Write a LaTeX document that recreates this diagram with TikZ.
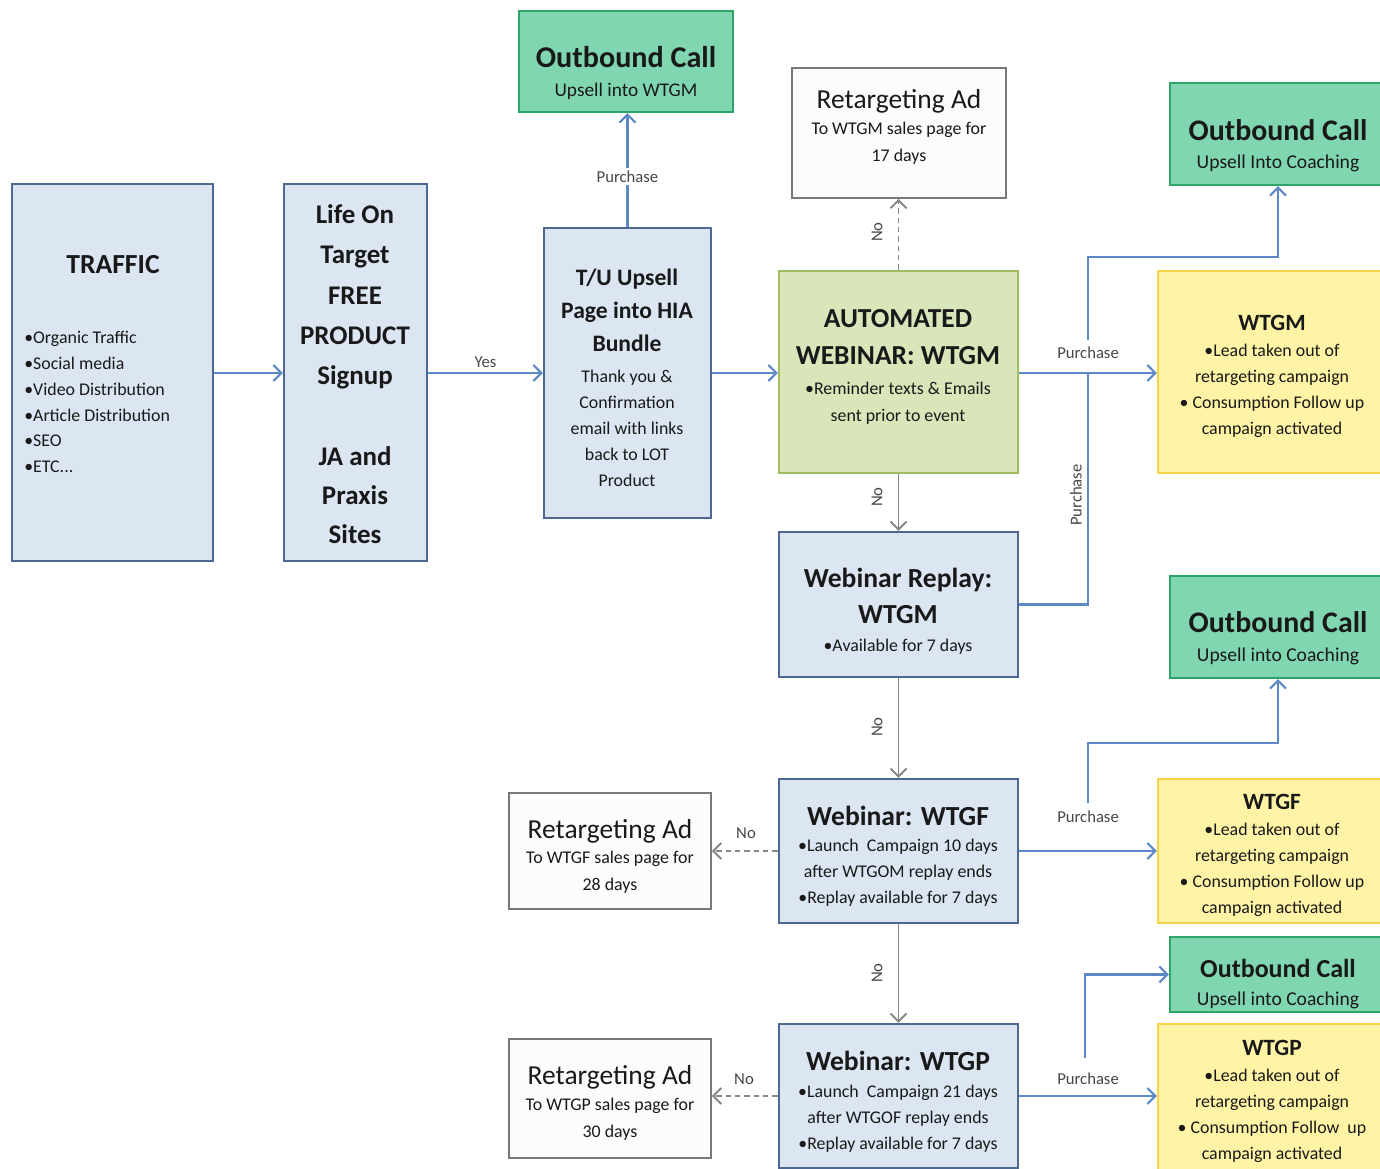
\documentclass[tikz,border=0pt]{standalone}
\usepackage{fontspec}
\setmainfont{Carlito}
\usetikzlibrary{arrows.meta,fit}
\definecolor{boxblue}{RGB}{78,104,148}
\definecolor{boxbluefill}{RGB}{220,230,243}
\definecolor{grnborder}{RGB}{160,190,95}
\definecolor{grnfill}{RGB}{216,230,186}
\definecolor{tealborder}{RGB}{45,165,105}
\definecolor{tealfill}{RGB}{128,214,176}
\definecolor{ylwborder}{RGB}{246,212,70}
\definecolor{ylwfill}{RGB}{255,243,165}
\definecolor{retborder}{RGB}{120,120,120}
\definecolor{retfill}{RGB}{252,252,250}
\definecolor{connblue}{RGB}{92,136,198}
\definecolor{conngray}{RGB}{135,135,135}
\definecolor{txt}{RGB}{25,25,25}
\definecolor{lblc}{RGB}{70,70,70}
\tikzset{
  box/.style={draw, line width=1.8pt, inner sep=0pt},
  bluebox/.style={box, draw=boxblue, fill=boxbluefill},
  grnbox/.style={box, draw=grnborder, fill=grnfill},
  tealbox/.style={box, draw=tealborder, fill=tealfill},
  ylwbox/.style={box, draw=ylwborder, fill=ylwfill},
  retbox/.style={box, line width=1.4pt, draw=retborder, fill=retfill},
  ttl/.style={font=\fontsize{20.7}{28}\selectfont\bfseries, text=txt, align=center, inner sep=0pt},
  sm/.style={font=\fontsize{13.4}{19.5}\selectfont, text=txt, align=center, inner sep=0pt},
  lbl/.style={font=\fontsize{12.5}{14}\selectfont, text=lblc, fill=white, inner sep=2pt},
  barrow/.style={draw=connblue, line width=1.6pt, -{Straight Barb[length=6pt,width=12pt]}},
  bline/.style={draw=connblue, line width=1.6pt},
  garrow/.style={draw=conngray, line width=1.4pt, -{Straight Barb[length=6pt,width=12pt]}},
  gdash/.style={garrow, dash pattern=on 4pt off 3pt},
}
\begin{document}
\begin{tikzpicture}[x=0.75pt, y=-0.75pt]
\useasboundingbox[fill=white] (0,0) rectangle (1380,1169);

% ---------- boxes ----------
\node[bluebox, fit={(12,184) (213,561)}] (traffic) {};
\node[bluebox, fit={(284,184) (427,561)}] (life) {};
\node[bluebox, fit={(544,228) (711,518)}] (tu) {};
\node[grnbox, fit={(779,271) (1018,473)}] (auto) {};
\node[tealbox, fit={(519,11) (733,112)}] (out0) {};
\node[retbox, fit={(792,68) (1006,198)}] (ret0) {};
\node[tealbox, fit={(1170,83) (1386,185)}] (out1) {};
\node[ylwbox, fit={(1158,271) (1386,473)}] (ym) {};
\node[bluebox, fit={(779,532) (1018,677)}] (replay) {};
\node[tealbox, fit={(1170,576) (1386,678)}] (out2) {};
\node[bluebox, fit={(779,779) (1018,923)}] (wtgf) {};
\node[retbox, fit={(509,793) (711,909)}] (ret1) {};
\node[ylwbox, fit={(1158,779) (1386,923)}] (yf) {};
\node[tealbox, fit={(1170,937) (1386,1012)}] (out3) {};
\node[bluebox, fit={(779,1024) (1018,1168)}] (wtgp) {};
\node[retbox, fit={(509,1039) (711,1158)}] (ret2) {};
\node[ylwbox, fit={(1158,1024) (1386,1176)}] (yp) {};

% ---------- texts ----------
\node[ttl] (traffic-t) at (113,265) {TRAFFIC};
\node[sm, align=left, anchor=west, font=\fontsize{13.4}{19.4}\selectfont] (traffic-b) at (24,402) {%
•Organic Traffic\\•Social media\\•Video Distribution\\•Article Distribution\\•SEO\\•ETC...};

\node[ttl, font=\fontsize{20.2}{30.2}\selectfont\bfseries] (life-t1) at (355,297) {Life On\\Target\\FREE\\PRODUCT\\Signup};
\node[ttl, font=\fontsize{20.2}{29}\selectfont\bfseries] (life-t2) at (355,495) {JA and\\Praxis\\Sites};

\node[ttl, font=\fontsize{17.7}{24.8}\selectfont\bfseries] (tu-t) at (627,310) {T/U Upsell\\Page into HIA\\Bundle};
\node[sm] (tu-b) at (627,428) {Thank you \&\\Confirmation\\email with links\\back to LOT\\Product};

\node[ttl, font=\fontsize{20.6}{27.8}\selectfont\bfseries] (auto-t) at (898,337) {AUTOMATED\\WEBINAR: WTGM};
\node[sm, font=\fontsize{13.4}{20}\selectfont] (auto-b) at (898,403) {•Reminder texts \& Emails\\sent prior to event};

\node[ttl, font=\fontsize{22.6}{28}\selectfont\bfseries] (out0-t) at (626,57) {Outbound Call};
\node[sm, font=\fontsize{14.5}{18}\selectfont] (out0-b) at (626,91) {Upsell into WTGM};

\node[ttl, font=\fontsize{20.6}{28}\selectfont] (ret0-t) at (899,101) {Retargeting Ad};
\node[sm, font=\fontsize{13.4}{20.5}\selectfont] (ret0-b) at (899,143) {To WTGM sales page for\\17 days};

\node[ttl, font=\fontsize{22.4}{28}\selectfont\bfseries] (out1-t) at (1278,130) {Outbound Call};
\node[sm, font=\fontsize{14.7}{18}\selectfont] (out1-b) at (1278,163) {Upsell Into Coaching};

\node[ttl, font=\fontsize{17.5}{22}\selectfont\bfseries] (ym-t) at (1272,323) {WTGM};
\node[sm] (ym-b) at (1272,391) {•Lead taken out of\\retargeting campaign\\• Consumption Follow up\\campaign activated};

\node[ttl, font=\fontsize{20.7}{26.5}\selectfont\bfseries] (replay-t) at (898,596) {Webinar Replay:\\WTGM};
\node[sm] (replay-b) at (898,647) {•Available for 7 days};

\node[ttl, font=\fontsize{22.4}{28}\selectfont\bfseries] (out2-t) at (1278,622) {Outbound Call};
\node[sm, font=\fontsize{14.7}{18}\selectfont] (out2-b) at (1278,656) {Upsell into Coaching};

\node[ttl] (wtgf-t) at (898,816) {Webinar: WTGF};
\node[sm, font=\fontsize{13.4}{19.5}\selectfont] (wtgf-b) at (898,873) {•Launch\ \ Campaign 10 days\\after WTGOM replay ends\\•Replay available for 7 days};

\node[ttl, font=\fontsize{20.6}{28}\selectfont] (ret1-t) at (610,831) {Retargeting Ad};
\node[sm, font=\fontsize{13.4}{20.5}\selectfont] (ret1-b) at (610,872) {To WTGF sales page for\\28 days};

\node[ttl, font=\fontsize{17.5}{22}\selectfont\bfseries] (yf-t) at (1272,802) {WTGF};
\node[sm] (yf-b) at (1272,870) {•Lead taken out of\\retargeting campaign\\• Consumption Follow up\\campaign activated};

\node[ttl, font=\fontsize{19.5}{24}\selectfont\bfseries] (out3-t) at (1278,968) {Outbound Call};
\node[sm, font=\fontsize{14.7}{18}\selectfont] (out3-b) at (1278,1000) {Upsell into Coaching};

\node[ttl] (wtgp-t) at (898,1061) {Webinar: WTGP};
\node[sm, font=\fontsize{13.4}{19.5}\selectfont] (wtgp-b) at (898,1119) {•Launch\ \ Campaign 21 days\\after WTGOF replay ends\\•Replay available for 7 days};

\node[ttl, font=\fontsize{20.6}{28}\selectfont] (ret2-t) at (610,1077) {Retargeting Ad};
\node[sm, font=\fontsize{13.4}{20.5}\selectfont] (ret2-b) at (610,1119) {To WTGP sales page for\\30 days};

\node[ttl, font=\fontsize{17.5}{22}\selectfont\bfseries] (yp-t) at (1272,1048) {WTGP};
\node[sm] (yp-b) at (1272,1116) {•Lead taken out of\\retargeting campaign\\• Consumption Follow\ \ up\\campaign activated};

% ---------- coordinates ----------
\coordinate (row) at (0,373);
\coordinate (row2) at (0,1096);
\coordinate (j1) at (1088,373);
\coordinate (b1) at (1088,340);
\coordinate (b2) at (1088,803);
\coordinate (b3) at (1085,1058);

% ---------- connectors ----------
\draw[barrow] (traffic.east |- row) -- (life.west |- row);
\draw[barrow] (life.east |- row) -- node[lbl, above=1pt, fill=none] (yes) {Yes} (tu.west |- row);
\draw[barrow] (tu.east |- row) -- (auto.west |- row);
\draw[barrow] (tu.north) -- node[lbl, pos=0.44] (p0) {Purchase} (tu.north |- out0.south);
\draw[gdash] (auto.north) -- (auto.north |- ret0.south);
\node[lbl, rotate=90, fill=none] (no0) at (877,232) {No};

\draw[barrow] (auto.east |- row) -- (ym.west |- row);
\node[lbl, fill=none] (p1) at (1088,353) {Purchase};
\draw[barrow] (b1) |- (1278,257) -- (out1.south);
\draw[bline] (replay.east) -| (j1);
\node[lbl, rotate=90, fill=none] (p1v) at (1076,495) {Purchase};

\draw[garrow] (auto.south) -- (replay.north);
\node[lbl, rotate=90, fill=none] (no1) at (877,497) {No};
\draw[garrow] (replay.south) -- (wtgf.north);
\node[lbl, rotate=90, fill=none] (no2) at (877,727) {No};

\draw[gdash] (wtgf.west) -- (wtgf.west -| ret1.east);
\node[lbl, fill=none] (no3) at (746,833) {No};
\draw[barrow] (wtgf.east) -- (yf.west);
\node[lbl, fill=none] (p2) at (1088,817) {Purchase};
\draw[barrow] (b2) |- (1278,743) -- (out2.south);

\draw[garrow] (wtgf.south) -- (wtgp.north);
\node[lbl, rotate=90, fill=none] (no4) at (877,973) {No};

\draw[gdash] (wtgp.west |- row2) -- (ret2.east |- row2);
\node[lbl, fill=none] (no5) at (744,1079) {No};
\draw[barrow] (wtgp.east |- row2) -- (yp.west |- row2);
\node[lbl, fill=none] (p3) at (1088,1079) {Purchase};
\draw[barrow] (b3) |- (out3.west);
\end{tikzpicture}
\end{document}
